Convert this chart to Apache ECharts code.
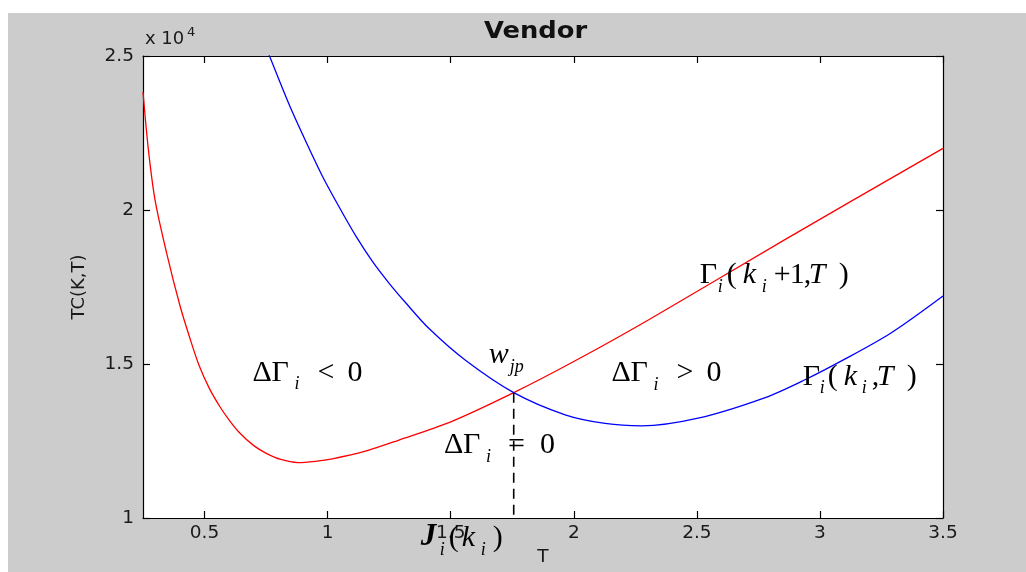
<!DOCTYPE html>
<html>
<head>
<meta charset="utf-8">
<script src="https://cdn.jsdelivr.net/npm/echarts@6/dist/echarts.min.js"></script>
<style>
  html, body { margin: 0; padding: 0; background: #ffffff; }
  #frame { position: absolute; left: 8px; top: 13px; width: 1018px; height: 559px; }
</style>
</head>
<body>
<div id="frame"></div>
<script>
// Vendor total cost TC(K,T) against the cycle time T, for k_i + 1 (red) and k_i (blue)
const redT  = [0.25, 0.272, 0.299, 0.346, 0.400, 0.44, 0.478, 0.52, 0.562, 0.6, 0.643, 0.7, 0.751, 0.81, 0.878, 0.95,
               1.019, 1.15, 1.29, 1.5, 1.756, 2.0, 2.303, 2.856, 3.5];
const redTC = [23830, 21950, 20320, 18600, 16900, 15850, 14950, 14200, 13620, 13180, 12760, 12350, 12100, 11900, 11800, 11840,
               11920, 12160, 12530, 13120, 14070, 15080, 16430, 19030, 22000];

const blueT  = [0.75, 0.764, 0.845, 0.913, 0.98, 1.048, 1.115, 1.182, 1.25, 1.318, 1.412, 1.56, 1.756, 1.965, 2.127, 2.275,
                2.505, 2.775, 2.937, 3.099, 3.287, 3.5];
const blueTC = [25300, 25000, 23400, 22200, 21080, 20080, 19150, 18330, 17620, 16980, 16150, 15120, 14070, 13350, 13070, 12990,
                13240, 13900, 14480, 15150, 16000, 17210];

// Crossing point of the two curves (w_jp) and the dashed drop to the T axis
const crossT  = 1.756;
const crossTC = 14070;

const xTicks = [0.5, 1, 1.5, 2, 2.5, 3, 3.5];
const yTicks = [10000, 15000, 20000, 25000];
const yScale = 10000;

const sans = 'DejaVu Sans';
const serif = 'Liberation Serif';

const chart = echarts.init(document.getElementById('frame'), null, { renderer: 'canvas' });

const redCurve  = redT.map((t, i) => [t, redTC[i]]);
const blueCurve = blueT.map((t, i) => [t, blueTC[i]]);
const dropLine  = [[crossT, crossTC], [crossT, yTicks[0]]];

const lineBlack = { color: '#000000', width: 1.2 };
const labelFont = { fontFamily: sans, fontSize: 18.5, color: '#1a1a1a' };

function xAxisDef(pos) {
  return {
    type: 'value', position: pos, min: 0.25, max: 3.5,
    axisLine: { show: true, onZero: false, lineStyle: lineBlack },
    axisTick: { show: true, inside: true, length: 7, customValues: xTicks, lineStyle: lineBlack },
    axisLabel: pos === 'bottom'
      ? Object.assign({ show: true, margin: 6, customValues: xTicks, formatter: v => String(v) }, labelFont)
      : { show: false },
    splitLine: { show: false },
    name: pos === 'bottom' ? 'T' : '',
    nameLocation: 'middle', nameGap: 28,
    nameTextStyle: { fontFamily: sans, fontSize: 18.5, color: '#1a1a1a' }
  };
}
function yAxisDef(pos) {
  return {
    type: 'value', position: pos, min: yTicks[0], max: yTicks[yTicks.length - 1], interval: 5000,
    axisLine: { show: true, onZero: false, lineStyle: lineBlack },
    axisTick: { show: true, inside: true, length: 7, lineStyle: lineBlack },
    axisLabel: pos === 'left'
      ? Object.assign({ show: true, margin: 9, formatter: v => String(v / yScale) }, labelFont)
      : { show: false },
    splitLine: { show: false },
    name: pos === 'left' ? 'TC(K,T)' : '',
    nameLocation: 'middle', nameGap: 55, nameRotate: 90,
    nameTextStyle: { fontFamily: sans, fontSize: 18, color: '#1a1a1a' }
  };
}

chart.setOption({
  backgroundColor: '#cccccc',
  animation: false,
  grid: { left: 135, right: 83, top: 43, bottom: 54, show: true, backgroundColor: '#ffffff', borderWidth: 0 },
  xAxis: [xAxisDef('bottom'), xAxisDef('top')],
  yAxis: [yAxisDef('left'), yAxisDef('right')],
  series: [
    {
      name: 'k_i + 1', type: 'line', xAxisIndex: 0, yAxisIndex: 0,
      data: redCurve, showSymbol: false, symbol: 'none', smooth: 0.3, clip: true,
      lineStyle: { color: '#ff0000', width: 1.3 }
    },
    {
      name: 'k_i', type: 'line', xAxisIndex: 0, yAxisIndex: 0,
      data: blueCurve, showSymbol: false, symbol: 'none', smooth: 0.3, clip: true,
      lineStyle: { color: '#0000ff', width: 1.3 }
    },
    {
      name: 'drop', type: 'line', xAxisIndex: 0, yAxisIndex: 0,
      data: dropLine, showSymbol: false, symbol: 'none', clip: true,
      lineStyle: { color: '#000000', width: 1.6, type: [10, 6] }
    }
  ]
});

// Math annotations: each piece is [text, x offset from the anchor, style key];
// anchors are (T, TC) at the left end of the text baseline.
const pieceStyles = {
  m: { size: 30, italic: false, bold: false, dy: 0 },
  v: { size: 30, italic: true,  bold: false, dy: 0 },
  J: { size: 31, italic: true,  bold: true,  dy: 0 },
  s: { size: 18, italic: true,  bold: false, dy: 8 }
};
const annotations = [
  { t: 0.695, v: 14390, pieces: [['Δ', 0, 'm'], ['Γ', 19, 'm'], ['i', 42, 's'], ['<', 65, 'm'], ['0', 95, 'm']] },
  { t: 1.655, v: 14970, pieces: [['w', 0, 'v'], ['jp', 21, 's']] },
  { t: 2.153, v: 14380, pieces: [['Δ', 0, 'm'], ['Γ', 19, 'm'], ['i', 42, 's'], ['>', 65, 'm'], ['0', 95, 'm']] },
  { t: 1.473, v: 12040, pieces: [['Δ', 0, 'm'], ['Γ', 19, 'm'], ['i', 42, 's'], ['=', 64, 'm'], ['0', 96, 'm']] },
  { t: 2.512, v: 17570, pieces: [['Γ', 0, 'm'], ['i', 18, 's'], ['(', 27, 'm'], ['k', 43, 'v'], ['i', 62, 's'],
                                 ['+', 74, 'm'], ['1', 90, 'm'], [',', 104, 'm'], ['T', 109, 'v'], [')', 139, 'm']] },
  { t: 2.930, v: 14260, pieces: [['Γ', 0, 'm'], ['i', 17, 's'], ['(', 25, 'm'], ['k', 41, 'v'], ['i', 59, 's'],
                                 [',', 69, 'm'], ['T', 74, 'v'], [')', 104, 'm']] },
  { t: 1.378, v: 9030,  pieces: [['J', 0, 'J'], ['i', 19, 's'], ['(', 28, 'm'], ['k', 41, 'v'], ['i', 60, 's'], [')', 72, 'm']] }
];

const graphics = [];
annotations.forEach(a => {
  const p = chart.convertToPixel({ xAxisIndex: 0, yAxisIndex: 0 }, [a.t, a.v]);
  a.pieces.forEach(([txt, dx, key]) => {
    const st = pieceStyles[key];
    graphics.push({
      type: 'text', silent: true, z: 100,
      x: p[0] + dx, y: p[1] + st.dy - 0.3375 * st.size,
      style: {
        text: txt, x: 0, y: 0,
        fontFamily: serif, fontSize: st.size,
        fontStyle: st.italic ? 'italic' : 'normal',
        fontWeight: st.bold ? 'bold' : 'normal',
        fill: '#000000',
        align: 'left', verticalAlign: 'middle',
        textAlign: 'left', textVerticalAlign: 'middle'
      }
    });
  });
});

// Title and the axis multiplier
graphics.push({
  type: 'text', silent: true, z: 100, x: 527.5, y: 19, scaleX: 1.12,
  style: { text: 'Vendor', x: 0, y: 0, fontFamily: sans, fontSize: 23, fontWeight: 'bold', fill: '#111111',
           align: 'center', verticalAlign: 'middle', textAlign: 'center', textVerticalAlign: 'middle' }
});
graphics.push({
  type: 'text', silent: true, z: 100, x: 137, y: 33 - 0.346 * 18,
  style: { text: 'x 10', x: 0, y: 0, fontFamily: sans, fontSize: 18, fill: '#1a1a1a',
           align: 'left', verticalAlign: 'middle', textAlign: 'left', textVerticalAlign: 'middle' }
});
graphics.push({
  type: 'text', silent: true, z: 100, x: 179, y: 24 - 0.346 * 13,
  style: { text: '4', x: 0, y: 0, fontFamily: sans, fontSize: 13, fill: '#1a1a1a',
           align: 'left', verticalAlign: 'middle', textAlign: 'left', textVerticalAlign: 'middle' }
});

chart.setOption({ graphic: { elements: graphics } });
</script>
</body>
</html>
